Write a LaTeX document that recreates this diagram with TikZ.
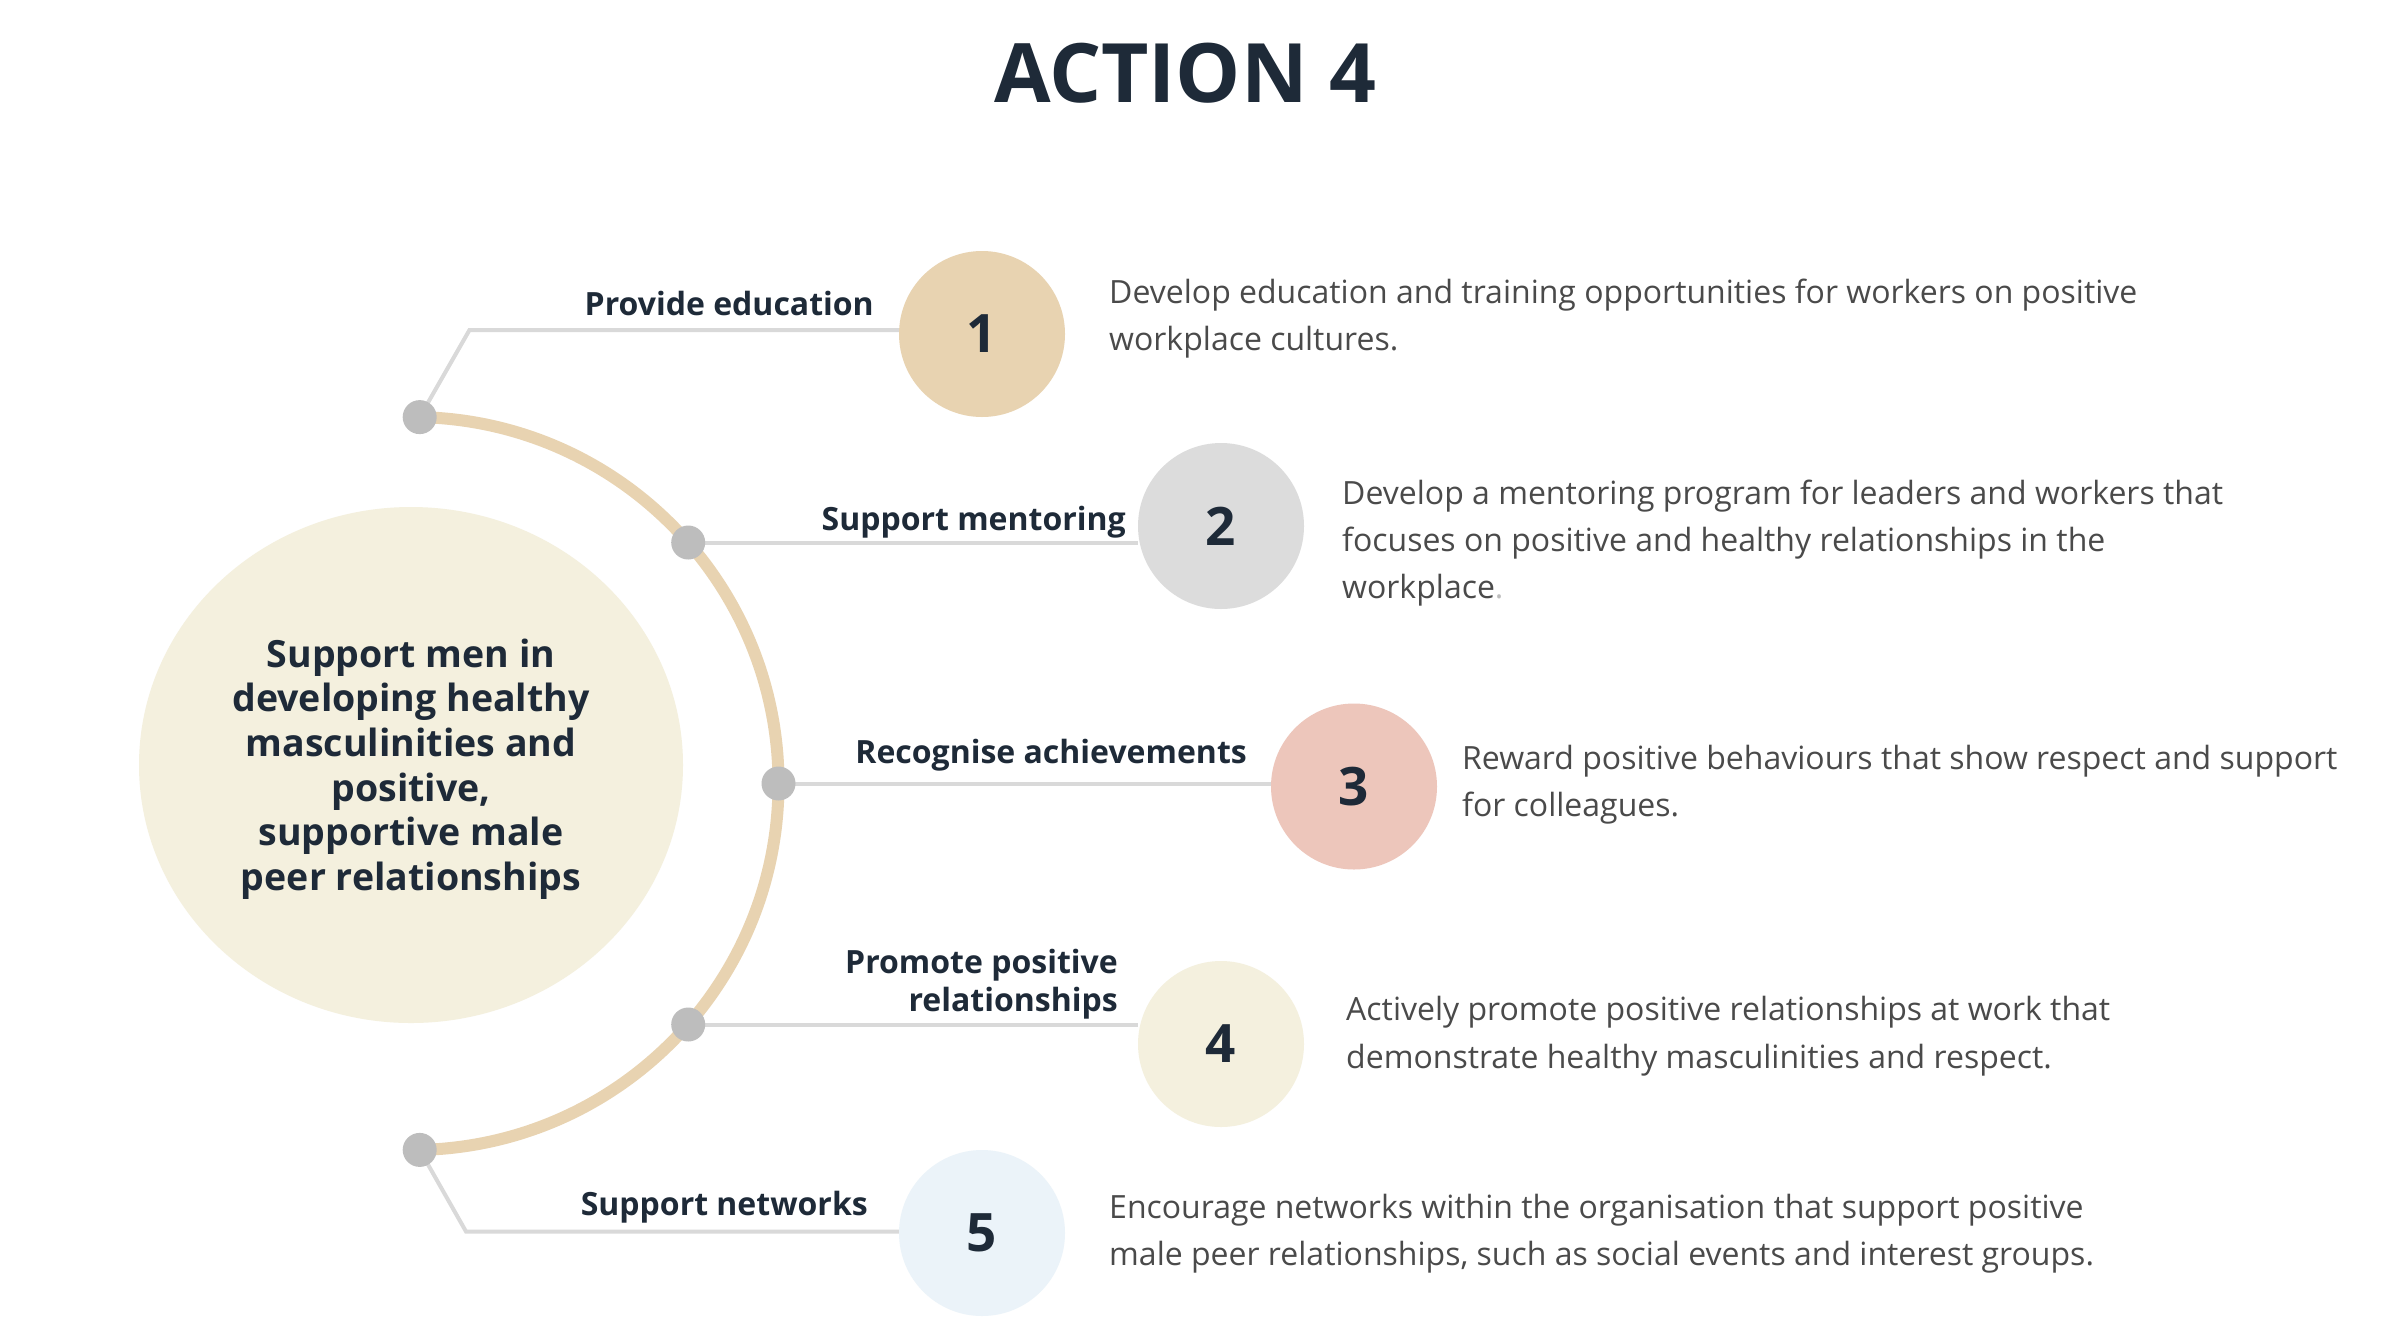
\documentclass[tikz,border=0pt]{standalone}
\usepackage{fontspec}
\setmainfont{Open Sans}
\usetikzlibrary{backgrounds}
\definecolor{navy}{HTML}{1E2A38}
\definecolor{desccol}{HTML}{4A4A4A}
\definecolor{tancol}{HTML}{E8D3B1}
\definecolor{greycol}{HTML}{DCDCDC}
\definecolor{pinkcol}{HTML}{EDC6BB}
\definecolor{creamcol}{HTML}{F4F0DE}
\definecolor{bluecol}{HTML}{EBF3F9}
\definecolor{dotcol}{HTML}{BDBDBD}
\definecolor{linecol}{HTML}{D9D9D9}
\begin{document}
\begin{tikzpicture}[x=1pt,y=-1pt,
  titlest/.style={font=\fontsize{82}{98}\selectfont\bfseries, text=navy, inner sep=0, anchor=base},
  lbl/.style={font=\fontsize{32}{38}\selectfont\bfseries, text=navy, inner sep=0, anchor=base east},
  desc/.style={font=\fontsize{32}{47}\selectfont, text=desccol, inner sep=0, anchor=base west},
  ctr/.style={font=\fontsize{37.5}{44}\selectfont\bfseries, text=navy, inner sep=0, anchor=base},
  num/.style={circle, minimum size=166pt, inner sep=0, font=\fontsize{53}{60}\selectfont\bfseries, text=navy},
  dotc/.style={circle, fill=dotcol, minimum size=34pt, inner sep=0},
  conn/.style={draw=linecol, line width=4pt},
  arcst/.style={draw=tancol, line width=12pt}
]
\begin{scope}[on background layer]
\fill[white] (0,0) rectangle (2400,1331);
\end{scope}
\useasboundingbox (0,0) rectangle (2400,1331);

% title
\node[titlest] (title) at (1185,102) {ACTION 4};

% central ellipse
\fill[creamcol] (411,765) ellipse [x radius=272, y radius=258];
\node[ctr] (t1) at (411,667) {Support men in};
\node[ctr] (t2) at (411,711.7) {developing healthy};
\node[ctr] (t3) at (411,756.4) {masculinities and};
\node[ctr] (t4) at (411,801.1) {positive,};
\node[ctr] (t5) at (411,845.8) {supportive male};
\node[ctr] (t6) at (411,890.5) {peer relationships};

% arc
\coordinate (arcstart) at (419.7,417.1);
\draw[arcst] (arcstart) arc[start angle=-88.8, end angle=88.8, radius=366.5];

% dots on arc
\node[dotc] (p1) at (419.7,417.1) {};
\node[dotc] (p2) at (688.2,542.5) {};
\node[dotc] (p3) at (778.5,783.5) {};
\node[dotc] (p4) at (688.2,1024.5) {};
\node[dotc] (p5) at (419.7,1149.9) {};

% numbered circles
\node[num, fill=tancol] (c1) at (982,334) {1};
\node[num, fill=greycol] (c2) at (1221,526) {2};
\node[num, fill=pinkcol] (c3) at (1354,786.5) {3};
\node[num, fill=creamcol] (c4) at (1221,1044) {4};
\node[num, fill=bluecol] (c5) at (982,1233) {5};

% connectors
\coordinate (k1) at (469.5,330);
\coordinate (k5) at (466,1231.5);
\begin{scope}[on background layer]
\draw[conn] (p1.center) -- (k1) -- (k1 -| c1.west);
\draw[conn] (p2.center) -- (p2.center -| c2.west);
\draw[conn] (p3.center) -- (p3.center -| c3.west);
\draw[conn] (p4.center) -- (p4.center -| c4.west);
\draw[conn] (p5.center) -- (k5) -- (k5 -| c5.west);
\end{scope}

% labels
\node[lbl] (l1) at (874,315) {Provide education};
\node[lbl] (l2) at (1126,530) {Support mentoring};
\node[lbl] (l3) at (1247,763) {Recognise achievements};
\node[lbl] (l4a) at (1118,973) {Promote positive};
\node[lbl] (l4b) at (1118,1011) {relationships};
\node[lbl] (l5) at (868,1215) {Support networks};

% descriptions
\node[desc] (d1a) at (1109,303) {Develop education and training opportunities for workers on positive};
\node[desc] (d1b) at (1109,350.5) {workplace cultures.};
\node[desc] (d2a) at (1342,504) {Develop a mentoring program for leaders and workers that};
\node[desc] (d2b) at (1342,551) {focuses on positive and healthy relationships in the};
\node[desc] (d2c) at (1342,598) {workplace{\color{dotcol}.}};
\node[desc] (d3a) at (1462,769) {Reward positive behaviours that show respect and support};
\node[desc] (d3b) at (1462,816) {for colleagues.};
\node[desc] (d4a) at (1346,1020.5) {Actively promote positive relationships at work that};
\node[desc] (d4b) at (1346,1068) {demonstrate healthy masculinities and respect.};
\node[desc] (d5a) at (1109,1218) {Encourage networks within the organisation that support positive};
\node[desc] (d5b) at (1109,1265) {male peer relationships, such as social events and interest groups.};
\end{tikzpicture}
\end{document}
